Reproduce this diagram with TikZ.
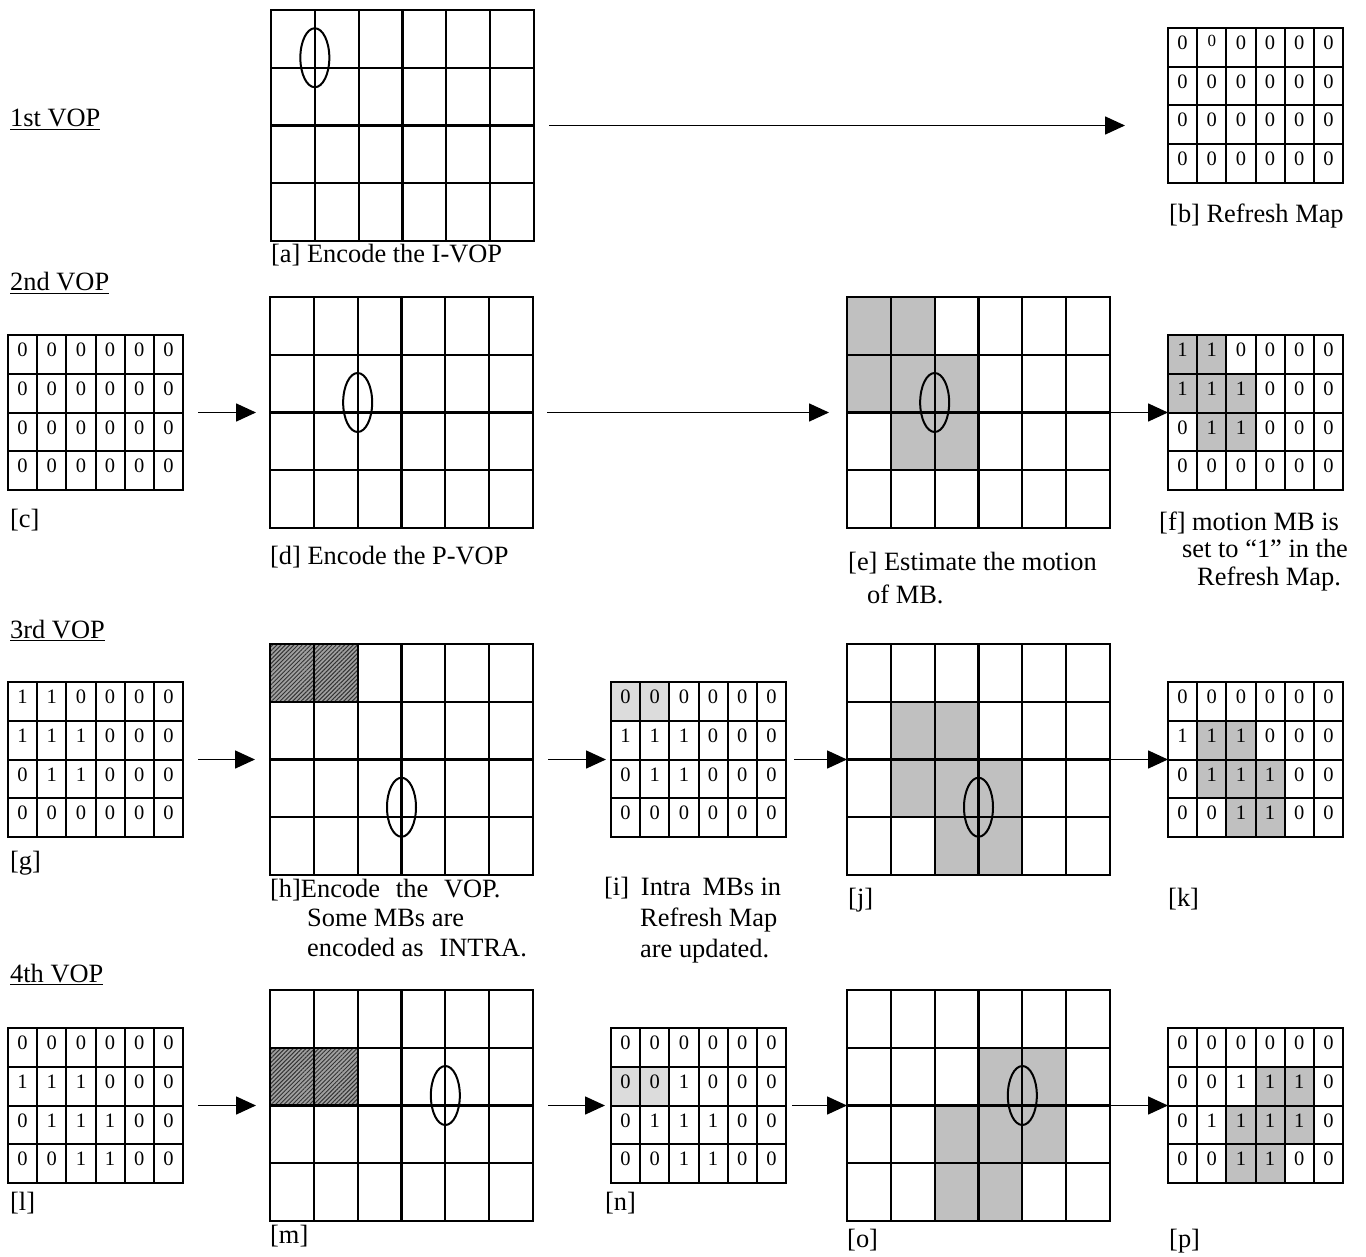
\documentclass[tikz,border=0pt]{standalone}
\usepackage{fontspec}
\setmainfont{Liberation Serif}
\usepackage{tikz}
\usetikzlibrary{arrows.meta,positioning,calc,patterns.meta}
\definecolor{MotionGray}{HTML}{C0C0C0}
\definecolor{RefreshGray}{HTML}{DCDCDC}
\definecolor{HatchGray}{HTML}{A0A0A0}
\newcommand{\capsize}{\fontsize{26.4}{29}\selectfont}
\newcommand{\digitsize}{\fontsize{20.5}{21}\selectfont}
\newcommand{\oddzero}{\raisebox{3pt}{\fontsize{17}{18}\selectfont 0}}
\tikzset{
  vopframe/.style={rectangle,inner sep=0pt,outer sep=0pt,minimum width=263pt,minimum height=231pt},
  mapframe/.style={rectangle,inner sep=0pt,outer sep=0pt,minimum width=175pt,minimum height=155pt},
  mbline/.style={draw=black,line width=2.2pt},
  mapline/.style={draw=black,line width=2pt},
  object/.style={draw=black,line width=2pt},
  flow/.style={-{Triangle[length=20pt,width=18pt]},line width=1.6pt},
  motion/.style={fill=MotionGray},
  refreshed/.style={fill=RefreshGray},
  intra/.style={preaction={fill=HatchGray},pattern={Lines[angle=45,distance=3pt,line width=1pt]},pattern color=black!80},
  caption/.style={anchor=base west,inner sep=0pt,align=left,font=\capsize},
  digit/.style={anchor=base,inner sep=0pt,font=\digitsize}
}
% 6x4 macroblock grid inside a frame node
\newcommand{\cellgrid}[2]{%
  \foreach \i in {1,...,5}
    \draw[#2] ($(#1.north west)!\i/6!(#1.north east)$) -- ($(#1.south west)!\i/6!(#1.south east)$);
  \foreach \j in {1,2,3}
    \draw[#2] ($(#1.north west)!\j/4!(#1.south west)$) -- ($(#1.north east)!\j/4!(#1.south east)$);
  \draw[#2] (#1.north west) rectangle (#1.south east);
}
\newcommand{\vopshade}[3]{%
  \foreach \r/\c in {#3}
    \path[#2] ($(#1.north west)+(\c*43.8333,\r*57.75)$) rectangle ++(43.8333,57.75);
}
\newcommand{\mapshade}[3]{%
  \foreach \r/\c in {#3}
    \path[#2] ($(#1.north west)+(\c*29.1667,\r*38.75)$) rectangle ++(29.1667,38.75);
}
\newcommand{\mbobject}[3]{%
  \draw[object] ($(#1.north west)+(#2*43.8333,#3*57.75-10)$) ellipse [x radius=14.5pt,y radius=29.5pt];
}
\newcommand{\mapdigits}[2]{%
  \foreach \row [count=\r from 0] in {#2}
    \foreach \v [count=\c from 0] in \row
      \node[digit] (#1-\r-\c) at ($(#1.north west)+(\c*29.1667+14.58,\r*38.75+21.5)$) {\v};
}

\begin{document}
\begin{tikzpicture}[x=1pt,y=-1pt,node distance=87pt]
  \useasboundingbox (0,0) rectangle (1366,1257);

  % 1st VOP
  \node[caption] (vop1) at (10,127) {\underline{1st VOP}};
  \node[vopframe,anchor=north west] (a) at (271,10) {};
  \node[mapframe,anchor=north west] (b) at (1168,28) {};
  \cellgrid{a}{mbline}
  \mbobject{a}{1}{1}
  \cellgrid{b}{mapline}
  \mapdigits{b}{{0,\oddzero,0,0,0,0},{0,0,0,0,0,0},{0,0,0,0,0,0},{0,0,0,0,0,0}}
  \node[caption] (capa) at ([yshift=-22pt]a.south west) {[a] Encode the I-VOP};
  \node[caption] (capb) at ([xshift=1pt,yshift=-40pt]b.south west) {[b] Refresh Map};
  \draw[flow,shorten <=15pt,shorten >=43pt] (a.east) -- (a.east -| b.west);

  % 2nd VOP
  \node[caption] (vop2) at (10,291) {\underline{2nd VOP}};
  \node[mapframe,anchor=north west] (c) at (8,335) {};
  \node[vopframe,right=of c] (d) {};
  \node[vopframe,right=314pt of d] (e) {};
  \node[mapframe,right=58pt of e] (f) {};
  \vopshade{e}{motion}{0/0,0/1,1/0,1/1,1/2,2/1,2/2}
  \mapshade{f}{motion}{0/0,0/1,1/0,1/1,1/2,2/1,2/2}
  \cellgrid{c}{mapline}
  \cellgrid{d}{mbline}
  \cellgrid{e}{mbline}
  \cellgrid{f}{mapline}
  \mbobject{d}{2}{2}
  \mbobject{e}{2}{2}
  \mapdigits{c}{{0,0,0,0,0,0},{0,0,0,0,0,0},{0,0,0,0,0,0},{0,0,0,0,0,0}}
  \mapdigits{f}{{1,1,0,0,0,0},{1,1,1,0,0,0},{0,1,1,0,0,0},{0,0,0,0,0,0}}
  \node[caption] (capc) at ([xshift=2pt,yshift=-37pt]c.south west) {[c]};
  \node[caption] (capd) at ([yshift=-36pt]d.south west) {[d] Encode the P-VOP};
  \node[caption] (cape) at ([xshift=1pt,yshift=-75pt]e.south west) {[e] Estimate the motion\\[4pt]\hspace*{19pt}of MB.};
  \node[caption] (capf) at ([xshift=-9pt,yshift=-95pt]f.south west) {[f] motion MB is\\[-1.5pt]\hspace*{23pt}set to ``1'' in the\\[-1.5pt]\hspace*{38pt}Refresh Map.};
  \draw[flow,shorten <=15pt,shorten >=14pt] (c) -- (d);
  \draw[flow,shorten <=14pt,shorten >=18pt] (d) -- (e);
  \draw[flow] (e) -- (f);

  % 3rd VOP
  \node[caption] (vop3) at (10,638) {\underline{3rd VOP}};
  \node[mapframe,anchor=north west] (g) at (8,682) {};
  \node[vopframe,right=of g] (h) {};
  \node[mapframe,right=78pt of h] (i) {};
  \node[vopframe,right=61pt of i] (j) {};
  \node[mapframe,right=58pt of j] (k) {};
  \vopshade{h}{intra}{0/0,0/1}
  \mapshade{i}{refreshed}{0/0,0/1}
  \vopshade{j}{motion}{1/1,1/2,2/1,2/2,2/3,3/2,3/3}
  \mapshade{k}{motion}{1/1,1/2,2/1,2/2,2/3,3/2,3/3}
  \cellgrid{g}{mapline}
  \cellgrid{h}{mbline}
  \cellgrid{i}{mapline}
  \cellgrid{j}{mbline}
  \cellgrid{k}{mapline}
  \mbobject{h}{3}{3}
  \mbobject{j}{3}{3}
  \mapdigits{g}{{1,1,0,0,0,0},{1,1,1,0,0,0},{0,1,1,0,0,0},{0,0,0,0,0,0}}
  \mapdigits{i}{{0,0,0,0,0,0},{1,1,1,0,0,0},{0,1,1,0,0,0},{0,0,0,0,0,0}}
  \mapdigits{k}{{0,0,0,0,0,0},{1,1,1,0,0,0},{0,1,1,1,0,0},{0,0,1,1,0,0}}
  \node[caption] (capg) at ([xshift=2pt,yshift=-32pt]g.south west) {[g]};
  \node[caption] (caph) at ([yshift=-81pt]h.south west) {[h]Encode\hspace{0.6em}the\hspace{0.6em}VOP.\\[0.5pt]\hspace*{37pt}Some MBs are\\[0.5pt]\hspace*{37pt}encoded as\hspace{0.6em}INTRA.};
  \node[caption] (capi) at ([xshift=-7pt,yshift=-120pt]i.south west) {[i]\hspace{0.45em}Intra\hspace{0.45em}MBs in\\[2pt]\hspace*{36pt}Refresh Map\\[2pt]\hspace*{36pt}are updated.};
  \node[caption] (capj) at ([xshift=1pt,yshift=-31pt]j.south west) {[j]};
  \node[caption] (capk) at ([yshift=-69pt]k.south west) {[k]};
  \draw[flow,shorten <=15pt,shorten >=15pt] (g) -- (h);
  \draw[flow,shorten <=15pt,shorten >=5pt] (h) -- (i);
  \draw[flow,shorten <=8pt] (i) -- (j);
  \draw[flow] (j) -- (k);

  % 4th VOP
  \node[caption] (vop4) at (10,982) {\underline{4th VOP}};
  \node[mapframe,anchor=north west] (l) at (8,1028) {};
  \node[vopframe,right=of l] (m) {};
  \node[mapframe,right=78pt of m] (n) {};
  \node[vopframe,right=61pt of n] (o) {};
  \node[mapframe,right=58pt of o] (p) {};
  \vopshade{m}{intra}{1/0,1/1}
  \mapshade{n}{refreshed}{1/0,1/1}
  \vopshade{o}{motion}{1/3,1/4,2/2,2/3,2/4,3/2,3/3}
  \mapshade{p}{motion}{1/3,1/4,2/2,2/3,2/4,3/2,3/3}
  \cellgrid{l}{mapline}
  \cellgrid{m}{mbline}
  \cellgrid{n}{mapline}
  \cellgrid{o}{mbline}
  \cellgrid{p}{mapline}
  \mbobject{m}{4}{2}
  \mbobject{o}{4}{2}
  \mapdigits{l}{{0,0,0,0,0,0},{1,1,1,0,0,0},{0,1,1,1,0,0},{0,0,1,1,0,0}}
  \mapdigits{n}{{0,0,0,0,0,0},{0,0,1,0,0,0},{0,1,1,1,0,0},{0,0,1,1,0,0}}
  \mapdigits{p}{{0,0,0,0,0,0},{0,0,1,1,1,0},{0,1,1,1,1,0},{0,0,1,1,0,0}}
  \node[caption] (capl) at ([xshift=2pt,yshift=-27pt]l.south west) {[l]};
  \node[caption] (capm) at ([yshift=-22pt]m.south west) {[m]};
  \node[caption] (capn) at ([xshift=-6pt,yshift=-27pt]n.south west) {[n]};
  \node[caption] (capo) at ([yshift=-26pt]o.south west) {[o]};
  \node[caption] (capp) at ([xshift=1pt,yshift=-64pt]p.south west) {[p]};
  \draw[flow,shorten <=15pt,shorten >=14pt] (l) -- (m);
  \draw[flow,shorten <=15pt,shorten >=6pt] (m) -- (n);
  \draw[flow,shorten <=6pt] (n) -- (o);
  \draw[flow] (o) -- (p);
\end{tikzpicture}
\end{document}
